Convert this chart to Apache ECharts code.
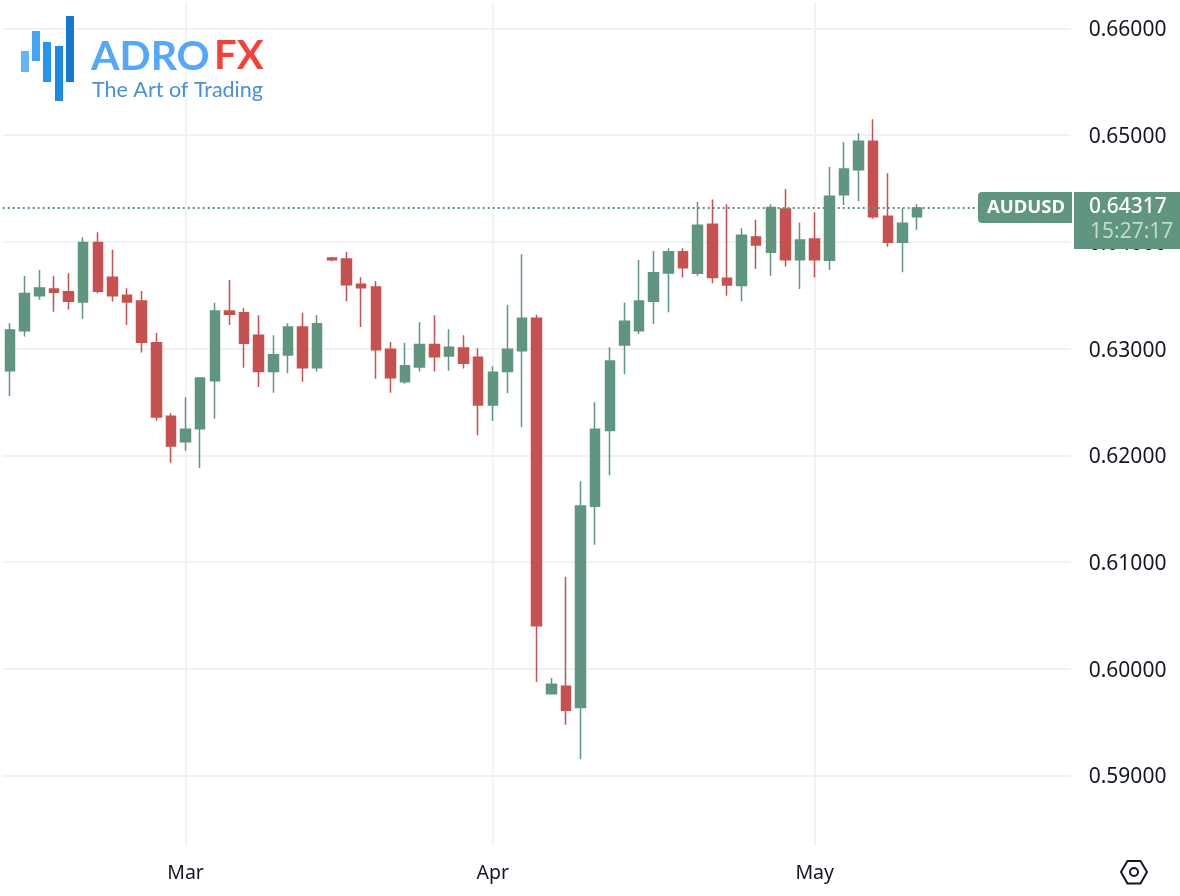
<!DOCTYPE html>
<html>
<head>
<meta charset="utf-8">
<title>AUDUSD</title>
<style>
    html, body {margin: 0; padding: 0; background: #ffffff;}
    #chart {width: 1180px; height: 896px;}
</style>
<script src="https://cdn.jsdelivr.net/npm/echarts@6/dist/echarts.min.js"></script>
</head>
<body>
<div id="chart"></div>
<script>
// 交易日，后面几天没有K线，只占位
const dates = [
    '2025-02-13', '2025-02-14', '2025-02-17', '2025-02-18', '2025-02-19', '2025-02-20', '2025-02-21',
    '2025-02-24', '2025-02-25', '2025-02-26', '2025-02-27', '2025-02-28',
    '2025-03-03', '2025-03-04', '2025-03-05', '2025-03-06', '2025-03-07',
    '2025-03-10', '2025-03-11', '2025-03-12', '2025-03-13', '2025-03-14',
    '2025-03-17', '2025-03-18', '2025-03-19', '2025-03-20', '2025-03-21',
    '2025-03-24', '2025-03-25', '2025-03-26', '2025-03-27', '2025-03-28', '2025-03-31',
    '2025-04-01', '2025-04-02', '2025-04-03', '2025-04-04',
    '2025-04-07', '2025-04-08', '2025-04-09', '2025-04-10', '2025-04-11',
    '2025-04-14', '2025-04-15', '2025-04-16', '2025-04-17', '2025-04-18',
    '2025-04-21', '2025-04-22', '2025-04-23', '2025-04-24', '2025-04-25',
    '2025-04-28', '2025-04-29', '2025-04-30',
    '2025-05-01', '2025-05-02', '2025-05-05', '2025-05-06', '2025-05-07', '2025-05-08', '2025-05-09',
    '2025-05-12', '2025-05-13', '2025-05-14', '2025-05-15', '2025-05-16',
    '2025-05-19', '2025-05-20', '2025-05-21', '2025-05-22', '2025-05-23', '2025-05-26'
];
const opens = [
    0.62793, 0.63168, 0.63496, 0.63559, 0.63533, 0.63437, 0.63993, 0.63668, 0.63500, 0.63446,
    0.63055, 0.62366, 0.62127, 0.62249, 0.62699, 0.63352, 0.63336, 0.63125, 0.62784, 0.62940,
    0.63202, 0.62821, 0.63849, 0.63840, 0.63603, 0.63577, 0.62993, 0.62690, 0.62828, 0.63037,
    0.62931, 0.63006, 0.62918, 0.62471, 0.62784, 0.62980, 0.63284, 0.59766, 0.59835, 0.59635,
    0.61522, 0.62231, 0.63034, 0.63168, 0.63443, 0.63709, 0.63908, 0.63706, 0.64165, 0.63659,
    0.63590, 0.64046, 0.63903, 0.64308, 0.63833, 0.64027, 0.63828, 0.64442, 0.64677, 0.64943,
    0.64240, 0.63996, 0.64236
];
const closes = [
    0.63174, 0.63515, 0.63568, 0.63528, 0.63443, 0.63993, 0.63537, 0.63496, 0.63437, 0.63059,
    0.62359, 0.62087, 0.62244, 0.62725, 0.63352, 0.63321, 0.63050, 0.62784, 0.62943, 0.63202,
    0.62821, 0.63233, 0.63833, 0.63599, 0.63571, 0.62990, 0.62727, 0.62840, 0.63037, 0.62924,
    0.63012, 0.62862, 0.62471, 0.62778, 0.62993, 0.63284, 0.60403, 0.59854, 0.59610, 0.61525,
    0.62244, 0.62884, 0.63256, 0.63446, 0.63711, 0.63908, 0.63758, 0.64156, 0.63665, 0.63596,
    0.64062, 0.63971, 0.64321, 0.63833, 0.64018, 0.63833, 0.64427, 0.64683, 0.64943, 0.64236,
    0.63996, 0.64174, 0.64317
];
const lows = [
    0.62556, 0.63112, 0.63458, 0.63346, 0.63365, 0.63280, 0.63518, 0.63440, 0.63221, 0.62962,
    0.62324, 0.61931, 0.62043, 0.61881, 0.62343, 0.63221, 0.62821, 0.62640, 0.62587, 0.62769,
    0.62690, 0.62784, 0.63818, 0.63443, 0.63202, 0.62718, 0.62587, 0.62671, 0.62784, 0.62784,
    0.62793, 0.62812, 0.62187, 0.62321, 0.62581, 0.62265, 0.59875, 0.59766, 0.59475, 0.59151,
    0.61162, 0.61813, 0.62759, 0.63137, 0.63231, 0.63340, 0.63665, 0.63683, 0.63612, 0.63496,
    0.63440, 0.63749, 0.63683, 0.63768, 0.63559, 0.63665, 0.63737, 0.64346, 0.64381, 0.64217,
    0.63955, 0.63715, 0.64114
];
const highs = [
    0.63237, 0.63680, 0.63737, 0.63680, 0.63706, 0.64043, 0.64090, 0.63927, 0.63565, 0.63540,
    0.63149, 0.62394, 0.62544, 0.62731, 0.63430, 0.63643, 0.63381, 0.63312, 0.63125, 0.63237,
    0.63336, 0.63312, 0.63859, 0.63908, 0.63668, 0.63634, 0.63062, 0.63055, 0.63249, 0.63312,
    0.63181, 0.63125, 0.63003, 0.62834, 0.63411, 0.63884, 0.63318, 0.59913, 0.60862, 0.61756,
    0.62497, 0.63012, 0.63430, 0.63830, 0.63915, 0.63940, 0.63940, 0.64377, 0.64396, 0.64352,
    0.64127, 0.64208, 0.64352, 0.64496, 0.64180, 0.64277, 0.64702, 0.64933, 0.65018, 0.65149,
    0.64643, 0.64315, 0.64352
];
const priceTicks = [0.59, 0.60, 0.61, 0.62, 0.63, 0.64, 0.65, 0.66];
const monthStarts = {'2025-03-03': 'Mar', '2025-04-01': 'Apr', '2025-05-01': 'May'};
const lastPrice = 0.64317;

const upColor = '#609580';
const downColor = '#c55150';
const gridColor = '#f2f2f2';
const textColor = '#131722';
const labelFont = 'Noto Sans';

let chart = echarts.init(document.getElementById('chart'));

let candleData = opens.map((open, i) => [open, closes[i], lows[i], highs[i]]);

// 左上角logo
let logoBars = [
    {x: 21, y: 51, height: 21, color: '#64b5f6'},
    {x: 32, y: 31, height: 30, color: '#42a5f5'},
    {x: 43, y: 42, height: 40, color: '#2196f3'},
    {x: 55, y: 46, height: 55, color: '#1e88e5'},
    {x: 66, y: 16, height: 66, color: '#1976d2'}
].map((bar) => ({
    type: 'rect',
    z: 100,
    shape: {x: bar.x, y: bar.y, width: 8, height: bar.height},
    style: {fill: bar.color}
}));

let option = {
    animation: false,
    backgroundColor: '#ffffff',
    grid: {
        left: 2.7,
        top: 2,
        width: 1068,
        height: 844,
        containLabel: false
    },
    xAxis: {
        type: 'category',
        data: dates,
        boundaryGap: true,
        axisLine: {show: false},
        axisTick: {show: false},
        axisLabel: {
            interval: (i, value) => !!monthStarts[value],
            formatter: (value) => monthStarts[value] || '',
            color: textColor,
            fontFamily: labelFont,
            fontSize: 19.5,
            margin: 17,
            hideOverlap: false
        },
        splitLine: {
            show: true,
            interval: (i, value) => !!monthStarts[value],
            alignWithLabel: true,
            lineStyle: {color: gridColor, width: 2}
        }
    },
    yAxis: {
        type: 'value',
        position: 'right',
        scale: true,
        min: 0.58338,
        max: 0.66248,
        axisLine: {show: false},
        axisTick: {show: false, customValues: priceTicks},
        axisLabel: {
            customValues: priceTicks,
            formatter: (value) => '{price|' + value.toFixed(5) + '}',
            margin: 18,
            rich: {
                price: {
                    color: textColor,
                    fontFamily: labelFont,
                    fontSize: 21,
                    padding: [4, 0, 0, 0]
                }
            }
        },
        splitLine: {
            show: true,
            lineStyle: {color: gridColor, width: 2}
        }
    },
    series: [
        {
            type: 'candlestick',
            data: candleData,
            barWidth: 10,
            itemStyle: {
                color: upColor,
                color0: downColor,
                borderColor: upColor,
                borderColor0: downColor,
                borderWidth: 1.5
            },
            markLine: {
                silent: true,
                symbol: 'none',
                precision: 5,
                label: {show: false},
                lineStyle: {color: upColor, type: [2, 3], width: 2},
                data: [{yAxis: lastPrice}]
            }
        }
    ],
    graphic: logoBars.concat([
        {
            type: 'text', z: 100, x: 91, y: 36,
            style: {text: 'ADRO', fill: '#55a8f8', font: 'bold 41px Lato'}
        },
        {
            type: 'text', z: 100, x: 214, y: 36,
            style: {text: 'FX', fill: '#f44336', font: 'bold 40px Lato'}
        },
        {
            type: 'text', z: 100, x: 92, y: 79,
            style: {text: 'The Art of Trading', fill: '#4a90d9', font: '21.5px Lato'}
        },
        // 当前价标签
        {
            type: 'rect', z: 100,
            shape: {x: 978, y: 192, width: 94, height: 31, r: [4, 0, 0, 4]},
            style: {fill: upColor}
        },
        {
            type: 'rect', z: 100,
            shape: {x: 1074, y: 192, width: 106, height: 57},
            style: {fill: upColor}
        },
        {
            type: 'text', z: 101, x: 987, y: 198,
            style: {text: 'AUDUSD', fill: '#ffffff', font: 'bold 18.5px "Noto Sans"'}
        },
        {
            type: 'text', z: 101, x: 1089, y: 197,
            style: {text: lastPrice.toFixed(5), fill: '#ffffff', font: '500 21px "Noto Sans"'}
        },
        {
            type: 'text', z: 101, x: 1090, y: 222,
            style: {text: '15:27:17', fill: '#c2d9d0', font: '21px "Noto Sans"'}
        },
        // 右下角设置按钮
        {
            type: 'polygon', z: 100,
            shape: {points: [[1121, 872], [1127.5, 861], [1140.5, 861], [1147, 872], [1140.5, 883.5], [1127.5, 883.5]]},
            style: {fill: 'none', stroke: textColor, lineWidth: 2}
        },
        {
            type: 'circle', z: 100,
            shape: {cx: 1134, cy: 872, r: 4},
            style: {fill: 'none', stroke: textColor, lineWidth: 2}
        }
    ])
};
chart.setOption(option);
</script>
</body>
</html>
